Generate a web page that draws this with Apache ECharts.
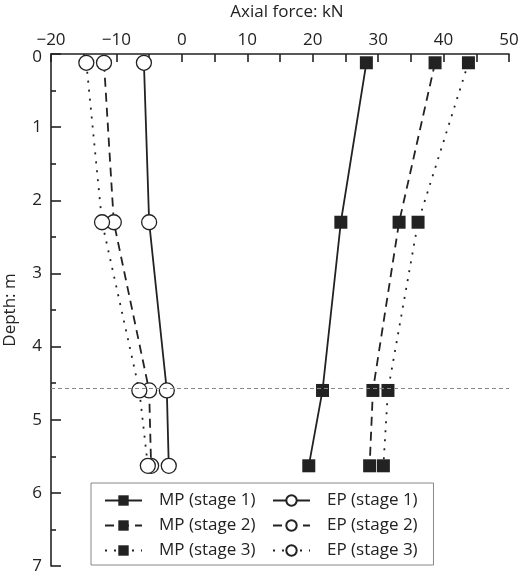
<!DOCTYPE html>
<html lang="en">
<head>
    <meta charset="UTF-8">
    <title>Axial force vs depth</title>
    <script src="https://cdn.jsdelivr.net/npm/echarts@6/dist/echarts.min.js"></script>
    <style>
        html, body { margin: 0; padding: 0; background: #fff; }
        #chart { width: 520px; height: 577px; }
    </style>
</head>
<body>
<div id="chart"></div>
<script type="text/javascript">
    // depth of the gauge rows (m)
    let depths = [0.12, 2.3, 4.6, 5.63];
    // axial force, kN
    let mp1 = [28.2, 24.3, 21.5, 19.4];
    let mp2 = [38.7, 33.2, 29.2, 28.7];
    let mp3 = [43.8, 36.1, 31.5, 30.8];
    let ep1 = [-5.8, -5.0, -2.3, -2.0];
    let ep2 = [-11.9, -10.4, -5.0, -4.7];
    let ep3 = [-14.6, -12.2, -6.5, -5.2];
    let mpNames = ['MP (stage 1)', 'MP (stage 2)', 'MP (stage 3)'];
    let epNames = ['EP (stage 1)', 'EP (stage 2)', 'EP (stage 3)'];
    let xTicks = [-20, 50, 10];
    let yTicks = [0, 7, 1];
    let excavationDepth = 4.57;

    let ink = '#222';
    let font = '"Open Sans", "Noto Sans", sans-serif';

    function pairs(vals) {
        return vals.map(function (v, i) { return [v, depths[i]]; });
    }

    function makeSeries(name, vals, isMP, dash) {
        return {
            name: name,
            type: 'line',
            data: pairs(vals),
            symbol: isMP ? 'rect' : 'circle',
            symbolSize: isMP ? 13 : 15,
            itemStyle: isMP
                ? { color: ink, borderColor: ink, borderWidth: 0 }
                : { color: '#fff', borderColor: ink, borderWidth: 1.3 },
            lineStyle: { color: ink, width: 1.8, type: dash },
            emphasis: { disabled: true },
            animation: false
        };
    }

    let series = [
        makeSeries(mpNames[0], mp1, true, 'solid'),
        makeSeries(epNames[0], ep1, false, 'solid'),
        makeSeries(mpNames[1], mp2, true, [9, 6]),
        makeSeries(epNames[1], ep2, false, [9, 6]),
        makeSeries(mpNames[2], mp3, true, [2, 7]),
        makeSeries(epNames[2], ep3, false, [2, 7])
    ];
    series[0].markLine = {
        silent: true,
        symbol: ['none', 'none'],
        label: { show: false },
        lineStyle: { color: '#888', type: [4, 3], width: 1 },
        data: [{ yAxis: excavationDepth }]
    };

    let legendBase = {
        orient: 'vertical',
        top: 483,
        itemWidth: 37,
        itemHeight: 13,
        itemGap: 8,
        textStyle: { color: ink, fontSize: 17, padding: [0, 0, 0, 12] },
        selectedMode: false
    };

    let option = {
        textStyle: { fontFamily: font },
        grid: { left: 51, right: 11, top: 54, bottom: 11, outerBoundsMode: 'none', containLabel: false },
        xAxis: {
            type: 'value',
            position: 'top',
            min: xTicks[0],
            max: xTicks[1],
            interval: xTicks[2],
            name: 'Axial force: kN',
            nameLocation: 'middle',
            nameGap: 33,
            nameMoveOverlap: false,
            nameTextStyle: { color: ink, fontSize: 17, padding: [0, 0, 0, 14] },
            axisLine: { onZero: false, lineStyle: { color: ink, width: 1.6 } },
            axisTick: { inside: true, length: 8, lineStyle: { color: ink, width: 1.6 } },
            minorTick: { show: true, splitNumber: 2, length: 8, lineStyle: { color: ink, width: 1.6 } },
            axisLabel: {
                color: ink, fontSize: 17, margin: 5,
                formatter: function (v) { return String(v).replace('-', '\u2212'); }
            },
            splitLine: { show: false }
        },
        yAxis: {
            type: 'value',
            inverse: true,
            min: yTicks[0],
            max: yTicks[1],
            interval: yTicks[2],
            name: 'Depth: m',
            nameLocation: 'middle',
            nameGap: 32,
            nameMoveOverlap: false,
            nameTextStyle: { color: ink, fontSize: 17 },
            axisLine: { onZero: false, lineStyle: { color: ink, width: 1.6 } },
            axisTick: { inside: true, length: 10, lineStyle: { color: ink, width: 1.6 } },
            minorTick: { show: true, splitNumber: 2, length: 5, lineStyle: { color: ink, width: 1.6 } },
            axisLabel: {
                color: ink, fontSize: 17, margin: 9,
                formatter: function (v) { return v === 0 ? '{z|0}' : String(v); },
                rich: { z: { fontSize: 17, color: ink, padding: [6, 0, 0, 0] } }
            },
            splitLine: { show: false }
        },
        legend: [
            // MP column carries the frame for the whole legend box
            Object.assign({}, legendBase, {
                data: mpNames,
                left: 91,
                padding: [9, 178, 6, 13],
                borderColor: '#888',
                borderWidth: 1
            }),
            Object.assign({}, legendBase, {
                data: epNames,
                left: 272,
                padding: [9, 0, 6, 0]
            })
        ],
        series: series
    };

    let myChart = echarts.init(document.getElementById('chart'));
    myChart.setOption(option);
</script>
</body>
</html>
